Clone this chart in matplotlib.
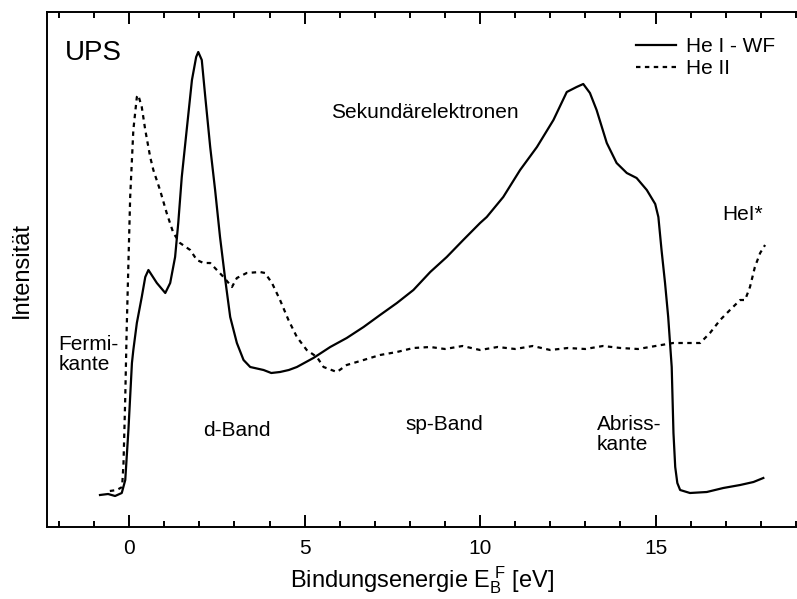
import numpy as np
import matplotlib.pyplot as plt
from matplotlib.ticker import MultipleLocator

plt.rcParams['font.family'] = ['Liberation Sans', 'DejaVu Sans']
plt.rcParams['mathtext.fontset'] = 'custom'
plt.rcParams['mathtext.rm'] = 'Liberation Sans'
plt.rcParams['mathtext.it'] = 'Liberation Sans'

# He I - WF spectrum (binding energy in eV, intensity in arb. units)
he1_energy = [-0.83, -0.6, -0.4, -0.21, -0.11, -0.02, 0.08, 0.12, 0.22, 0.36, 0.46, 0.55,
              0.79, 1.03, 1.17, 1.31, 1.40, 1.50, 1.64, 1.79, 1.91, 1.97, 2.07, 2.17,
              2.31, 2.45, 2.59, 2.74, 2.88, 3.07, 3.26, 3.45, 3.83, 4.05, 4.30, 4.55,
              4.78, 5.25, 5.73, 6.20, 6.68, 7.15, 7.63, 8.10, 8.58, 9.05, 9.52, 10.0,
              10.19, 10.66, 11.14, 11.62, 12.09, 12.47, 12.75, 12.94, 13.13, 13.32,
              13.61, 13.89, 14.18, 14.46, 14.75, 14.99, 15.08, 15.17, 15.27, 15.36,
              15.46, 15.51, 15.56, 15.62, 15.70, 15.98, 16.46, 16.93, 17.41, 17.79, 18.07]
he1_intensity = [32, 33, 31, 34, 47, 97, 164, 177, 204, 230, 250, 257,
                 244, 234, 244, 270, 304, 350, 397, 447, 470, 475, 467, 430,
                 380, 337, 290, 247, 210, 184, 167, 160, 157, 154, 155, 157,
                 160, 169, 180, 189, 200, 212, 224, 237, 255, 270, 287, 304,
                 310, 330, 357, 380, 407, 435, 440, 443, 434, 417,
                 384, 364, 354, 349, 337, 323, 310, 277, 244, 210,
                 160, 94, 60, 44, 37, 34, 35, 39, 42, 45, 49]

# He II spectrum
he2_energy = [-0.55, -0.35, -0.2, -0.16, -0.11, -0.07, -0.02, 0.03, 0.12, 0.22, 0.26,
              0.36, 0.46, 0.60, 0.69, 0.88, 1.07, 1.26, 1.45, 1.74, 1.93, 2.12, 2.31,
              2.50, 2.69, 2.93, 3.07, 3.35, 3.73, 3.87, 4.07, 4.30, 4.54, 4.78, 5.06,
              5.35, 5.54, 5.92, 6.20, 6.68, 7.15, 7.63, 8.10, 8.58, 9.0, 9.5, 10.0,
              10.5, 11.0, 11.5, 12.0, 12.5, 13.0, 13.5, 14.0, 14.5, 15.0, 15.5, 16.0,
              16.27, 16.55, 16.84, 17.12, 17.41, 17.55, 17.69, 17.83, 17.98, 18.12]
he2_intensity = [36, 37, 40, 64, 130, 197, 264, 330, 397, 430, 432,
                 420, 397, 370, 357, 337, 314, 294, 284, 277, 267, 264, 264,
                 257, 250, 240, 249, 254, 255, 254, 244, 227, 207, 190, 177,
                 170, 160, 155, 162, 167, 172, 175, 179, 180, 178, 181, 177,
                 180, 178, 181, 177, 179, 178, 181, 179, 178, 181, 184, 184,
                 184, 194, 207, 217, 227, 227, 240, 260, 274, 282]

fig = plt.figure(figsize=(7.97, 5.99), dpi=100)
ax = fig.add_axes([47 / 797, 1 - 527 / 599, 750 / 797, 515 / 599])

ax.plot(he1_energy, he1_intensity, color='black', lw=1.6, label='He I - WF')
ax.plot(he2_energy, he2_intensity, color='black', lw=1.6, linestyle=(0, (2, 2)),
        label='He II')

ax.set_xlim(-2.34, 19.03)
ax.set_ylim(0, 515)

ax.xaxis.set_major_locator(MultipleLocator(5))
ax.xaxis.set_minor_locator(MultipleLocator(1))
ax.tick_params(axis='x', which='both', direction='in', top=True, bottom=True,
               width=1.4, labelsize=15, pad=9)
ax.tick_params(axis='x', which='major', length=8.5)
ax.tick_params(axis='x', which='minor', length=4.3)
ax.set_yticks([])
for side in ['left', 'top', 'bottom']:
    ax.spines[side].set_linewidth(1.4)
ax.spines['right'].set_visible(False)

ax.set_xlabel(r'Bindungsenergie E$_\mathrm{B}^{\ \mathrm{F}}$ [eV]', fontsize=17, labelpad=4)
ax.set_ylabel('Intensität', fontsize=17)
ax.yaxis.set_label_coords(-0.019, 0.5)

ax.text(-1.82, 474, 'UPS', fontsize=20, ha='left', va='center')
ax.text(-2.02, 192, 'Fermi-\nkante', fontsize=15, ha='left', va='top', linespacing=1.05)
ax.text(3.08, 97, 'd-Band', fontsize=15, ha='center', va='center')
ax.text(8.43, 414, 'Sekundärelektronen', fontsize=15, ha='center', va='center')
ax.text(8.97, 103, 'sp-Band', fontsize=15, ha='center', va='center')
ax.text(13.33, 112, 'Abriss-\nkante', fontsize=15, ha='left', va='top', linespacing=1.1)
ax.text(16.89, 312, 'HeI*', fontsize=15, ha='left', va='center')

ax.legend(loc='upper left', bbox_to_anchor=(636 / 797, 1 - 37 / 599),
          bbox_transform=fig.transFigure, frameon=False, fontsize=15,
          handlelength=1.9, handletextpad=0.5, labelspacing=0.15,
          borderpad=0, borderaxespad=0)

fig.savefig('out.png', dpi=100)
